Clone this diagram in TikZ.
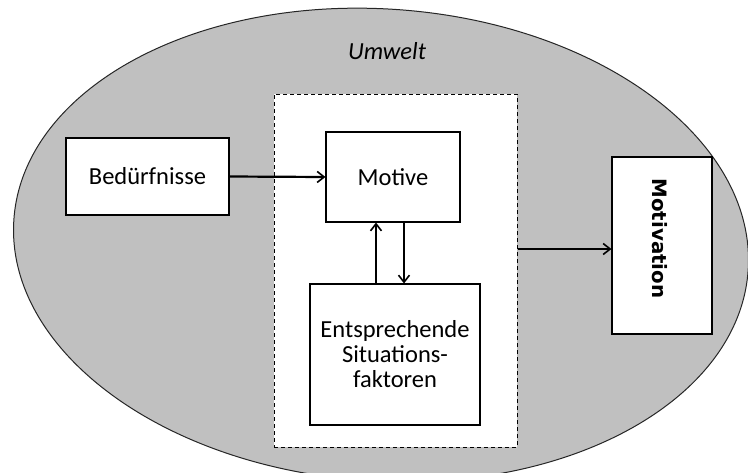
\documentclass[tikz,border=0pt]{standalone}
\usepackage{fontspec}
\setmainfont{Carlito}
\newfontfamily\motfont{DejaVu Sans}
\usetikzlibrary{arrows.meta}
\definecolor{umweltgray}{RGB}{192,192,192}
\tikzset{
  boxnode/.style={draw=black, line width=1.1pt, fill=white, inner sep=0pt, font=\fontsize{24.5}{25}\selectfont, align=center},
  framenode/.style={draw=black, dashed, dash pattern=on 4pt off 3pt, line width=1pt, fill=white, inner sep=0pt},
  arr/.style={line width=2.2pt, -{Straight Barb[length=7pt,width=11pt,line width=1.6pt]}},
  umwelt/.style={draw=black!85, line width=1pt, fill=umweltgray}
}
\begin{document}
\begin{tikzpicture}[x=1pt,y=-1pt]
\useasboundingbox (0,0) rectangle (748,472);
\fill[white] (0,0) rectangle (748,472);
\begin{scope}
\clip (0,0) rectangle (748,472);
\draw[umwelt, rotate around={-4:(381,245)}] (381,245) ellipse [x radius=368, y radius=236];
\end{scope}
\node[font=\fontsize{24.5}{25}\selectfont\itshape] (umw) at (387,51) {Umwelt};
\node[framenode, minimum width=243pt, minimum height=353pt] (frame) at (395.5,270.5) {};
\node[boxnode, minimum width=163pt, minimum height=77pt] (bed) at (147.5,176.5) {Bedürfnisse};
\node[boxnode, minimum width=134pt, minimum height=90pt] (motive) at (393,177) {Motive};
\node[boxnode, minimum width=170pt, minimum height=141pt] (ent) at (395,354.5) {Entsprechende\\Situations-\\faktoren};
\node[boxnode, minimum width=100pt, minimum height=177pt] (motiv) at (662,245.5) {};
\node[rotate=-90, inner sep=0pt, font=\motfont\bfseries\fontsize{19.8}{20}\selectfont] (motivlbl) at (660,238.5) {Motivation};
\coordinate (u) at (376,0);
\coordinate (d) at (404,0);
\coordinate (r) at (0,249);
\draw[arr] (bed.east) -- (motive.west);
\draw[arr] (ent.north -| u) -- (motive.south -| u);
\draw[arr] (motive.south -| d) -- (ent.north -| d);
\draw[arr] (frame.east |- r) -- (motiv.west |- r);
\end{tikzpicture}
\end{document}
